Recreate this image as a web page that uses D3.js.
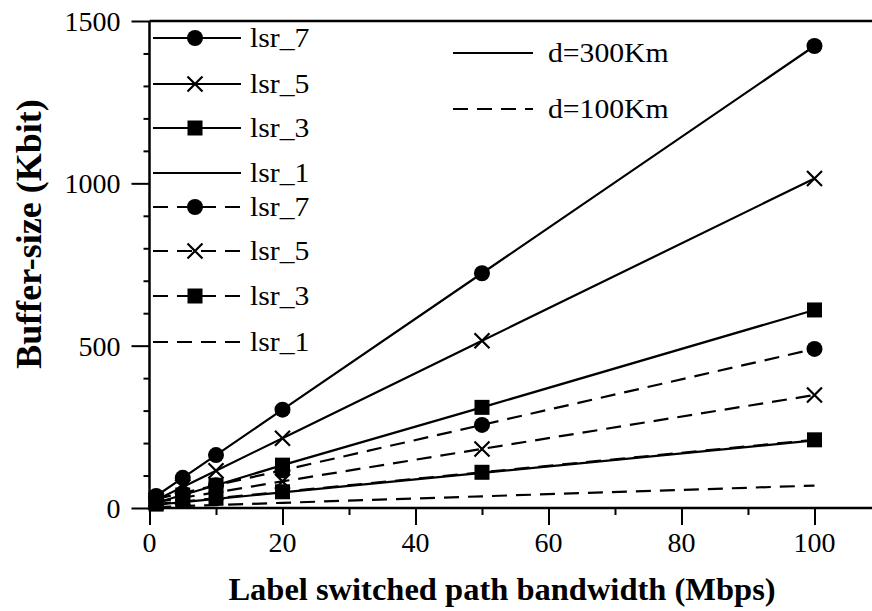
<!DOCTYPE html>
<html lang="en">
<head>
    <meta charset="UTF-8">
    <title>Buffer-size vs LSP bandwidth</title>
    <script src="https://d3js.org/d3.v7.min.js"></script>
    <style>
        body {
            margin: 0;
            background: #fff;
        }
        svg {
            display: block;
        }
        svg text {
            font-family: "Liberation Serif", "Times New Roman", serif;
            fill: #000;
        }
    </style>
</head>
<body>
<svg width="872" height="611"></svg>

<script>
    // bandwidth (Mbps) on the x axis
    const bandwidth = [1, 5, 10, 20, 50, 100];

    // buffer size (Kbit), d = 300 Km
    const d300_lsr7 = [37, 93, 163, 303, 723, 1423];
    const d300_lsr5 = [25, 65, 115, 215, 515, 1015];
    const d300_lsr3 = [16, 40, 70, 132, 310, 610];
    const d300_lsr1 = [10, 18, 28, 48, 108, 208];

    // buffer size (Kbit), d = 100 Km
    const d100_lsr7 = [28, 46, 70, 116, 256, 490];
    const d100_lsr5 = [18, 32, 48, 82, 182, 348];
    const d100_lsr3 = [12, 20, 30, 50, 110, 210];
    const d100_lsr1 = [3, 6, 9, 16, 36, 69];

    const xTicks = [0, 20, 40, 60, 80, 100];
    const yTicks = [0, 500, 1000, 1500];

    const series = [
        {name: "lsr_7", values: d300_lsr7, marker: "circle", dashed: false},
        {name: "lsr_5", values: d300_lsr5, marker: "cross", dashed: false},
        {name: "lsr_3", values: d300_lsr3, marker: "square", dashed: false},
        {name: "lsr_1", values: d300_lsr1, marker: "none", dashed: false},
        {name: "lsr_7", values: d100_lsr7, marker: "circle", dashed: true},
        {name: "lsr_5", values: d100_lsr5, marker: "cross", dashed: true},
        {name: "lsr_3", values: d100_lsr3, marker: "square", dashed: true},
        {name: "lsr_1", values: d100_lsr1, marker: "none", dashed: true}
    ];

    const dash = "15,9";
    const svg = d3.select("svg");

    const x = d3.scaleLinear().domain([0, 108.65]).range([149.5, 872]);
    const y = d3.scaleLinear().domain([0, 1500]).range([508, 21]);

    // axes (ticks only, labels drawn separately)
    const xAxis = d3.axisBottom(x).tickValues(d3.range(0, 110, 10))
        .tickSize(7).tickFormat("");
    const gx = svg.append("g").attr("transform", `translate(0,${y(0)})`).call(xAxis);
    gx.selectAll(".tick line").filter(d => d % 20 === 0).attr("y2", 17);

    const yAxis = d3.axisLeft(y).tickValues(d3.range(0, 1600, 100))
        .tickSize(6).tickFormat("");
    const gy = svg.append("g").attr("transform", `translate(${x(0)},0)`).call(yAxis);
    gy.selectAll(".tick line").filter(d => d % 500 === 0).attr("x2", -18);

    svg.selectAll(".domain").remove();
    svg.selectAll(".tick line").attr("stroke-width", 2);

    svg.append("g").selectAll("text")
        .data(xTicks)
        .enter().append("text")
        .attr("x", d => x(d))
        .attr("y", y(0) + 44)
        .attr("text-anchor", "middle")
        .attr("font-size", 28)
        .text(d => d);

    svg.append("g").selectAll("text")
        .data(yTicks)
        .enter().append("text")
        .attr("x", x(0) - 29)
        .attr("y", d => y(d) + 10)
        .attr("text-anchor", "end")
        .attr("font-size", 28)
        .text(d => d);

    // axis lines and top frame
    svg.append("line")
        .attr("x1", x(0)).attr("x2", 872)
        .attr("y1", y(0)).attr("y2", y(0))
        .attr("stroke", "#000").attr("stroke-width", 2.5);
    svg.append("line")
        .attr("x1", x(0)).attr("x2", x(0))
        .attr("y1", y(0)).attr("y2", y(1500))
        .attr("stroke", "#000").attr("stroke-width", 2.5);
    svg.append("line")
        .attr("x1", x(0)).attr("x2", 872)
        .attr("y1", y(1500)).attr("y2", y(1500))
        .attr("stroke", "#000").attr("stroke-width", 2.5);

    // axis titles
    svg.append("text")
        .attr("x", 502).attr("y", 600)
        .attr("text-anchor", "middle")
        .attr("font-size", 32.5)
        .attr("font-weight", "bold")
        .text("Label switched path bandwidth (Mbps)");

    svg.append("text")
        .attr("transform", "translate(41,234) rotate(-90)")
        .attr("text-anchor", "middle")
        .attr("font-size", 36)
        .attr("font-weight", "bold")
        .text("Buffer-size (Kbit)");

    // marker drawing
    function drawMarker(g, type, cx, cy) {
        if (type === "circle") {
            g.append("circle").attr("cx", cx).attr("cy", cy).attr("r", 8).attr("fill", "#000");
        } else if (type === "square") {
            g.append("rect").attr("x", cx - 7.5).attr("y", cy - 7.5)
                .attr("width", 15).attr("height", 15).attr("fill", "#000");
        } else if (type === "cross") {
            const s = 7.5;
            g.append("path")
                .attr("d", `M${cx - s},${cy - s}L${cx + s},${cy + s}M${cx - s},${cy + s}L${cx + s},${cy - s}`)
                .attr("stroke", "#000").attr("stroke-width", 2.2).attr("fill", "none");
        }
    }

    const line = d3.line().x((d, i) => x(bandwidth[i])).y(d => y(d));

    const plot = svg.append("g");
    series.forEach(s => {
        plot.append("path")
            .datum(s.values)
            .attr("d", line)
            .attr("fill", "none")
            .attr("stroke", "#000")
            .attr("stroke-width", 2.2)
            .attr("stroke-dasharray", s.dashed ? dash : null);
        s.values.forEach((v, i) => drawMarker(plot, s.marker, x(bandwidth[i]), y(v)));
    });

    // legend (series)
    const legendRows = [38, 84, 128, 173, 207, 251, 296, 342];
    const legend = svg.append("g");
    series.forEach((s, i) => {
        const ly = legendRows[i];
        legend.append("line")
            .attr("x1", 153).attr("x2", 241)
            .attr("y1", ly).attr("y2", ly)
            .attr("stroke", "#000").attr("stroke-width", 2.2)
            .attr("stroke-dasharray", s.dashed ? dash : null);
        drawMarker(legend, s.marker, 195, ly);
        legend.append("text")
            .attr("transform", `translate(250,${ly + 9}) scale(1.08,1)`)
            .attr("font-size", 27.5)
            .text(s.name);
    });

    // legend (distance)
    const distLabels = ["d=300Km", "d=100Km"];
    const distRows = [53, 109];
    distLabels.forEach((t, i) => {
        legend.append("line")
            .attr("x1", 453).attr("x2", 533)
            .attr("y1", distRows[i]).attr("y2", distRows[i])
            .attr("stroke", "#000").attr("stroke-width", 2.2)
            .attr("stroke-dasharray", i === 1 ? dash : null);
        legend.append("text")
            .attr("transform", `translate(548,${distRows[i] + 9}) scale(1.08,1)`)
            .attr("font-size", 27.5)
            .text(t);
    });
</script>
</body>
</html>
